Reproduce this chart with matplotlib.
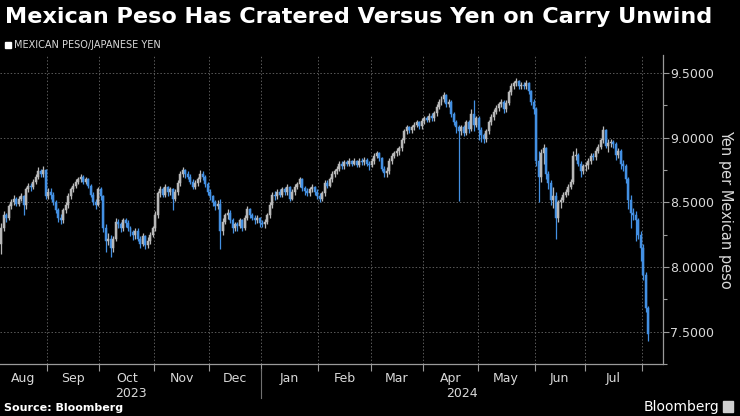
import numpy as np
import pandas as pd
import matplotlib
matplotlib.use("Agg")
import matplotlib.pyplot as plt

# daily MXN/JPY, Aug 7 2023 .. Aug 5 2024 (business days)
dates = pd.bdate_range("2023-08-07", "2024-08-05")
first_open = 8.18

closes = [
    8.30, 8.40, 8.38, 8.47, 8.50,  8.53, 8.49, 8.53, 8.55, 8.48,
    8.60, 8.63, 8.62, 8.66, 8.70,  8.74, 8.72, 8.75, 8.55, 8.58,
    8.56, 8.50, 8.44, 8.38, 8.36,  8.44, 8.48, 8.55, 8.60, 8.63,
    8.66, 8.68, 8.70, 8.66, 8.68,  8.63, 8.56, 8.50, 8.48, 8.60,
    8.55, 8.30, 8.20, 8.22, 8.15,  8.22, 8.35, 8.33, 8.30, 8.36,
    8.34, 8.30, 8.27, 8.25, 8.28,  8.22, 8.18, 8.24, 8.17, 8.20,
    8.25, 8.30, 8.40, 8.57, 8.60,  8.56, 8.62, 8.58, 8.60, 8.53,
    8.58, 8.65, 8.72, 8.75, 8.72,  8.70, 8.66, 8.62, 8.65, 8.68,
    8.72, 8.70, 8.64, 8.58, 8.55,  8.50, 8.47, 8.49, 8.28, 8.35,
    8.40, 8.42, 8.36, 8.30, 8.33,  8.32, 8.36, 8.30, 8.38, 8.45,
    8.40, 8.38, 8.36, 8.38, 8.34,  8.33, 8.35, 8.40, 8.48, 8.56,
    8.55, 8.58, 8.56, 8.60, 8.58,  8.62, 8.53, 8.58, 8.62, 8.64,
    8.68, 8.61, 8.59, 8.57, 8.60,  8.62, 8.58, 8.55, 8.53, 8.57,
    8.65, 8.63, 8.68, 8.72, 8.74,  8.76, 8.80, 8.78, 8.81, 8.80,
    8.82, 8.80, 8.82, 8.79, 8.82,  8.81, 8.83, 8.80, 8.79, 8.82,
    8.86, 8.88, 8.84, 8.76, 8.73,  8.74, 8.82, 8.86, 8.88, 8.90,
    8.92, 8.98, 9.05, 9.08, 9.06,  9.08, 9.10, 9.12, 9.09, 9.13,
    9.15, 9.14, 9.17, 9.15, 9.19,  9.24, 9.28, 9.30, 9.33, 9.26,
    9.28, 9.18, 9.12, 9.08, 9.05,  9.08, 9.04, 9.12, 9.07, 9.18,
    9.10, 9.15, 9.06, 9.02, 8.99,  9.05, 9.12, 9.16, 9.20, 9.23,
    9.26, 9.28, 9.22, 9.27, 9.35,  9.40, 9.42, 9.44, 9.40, 9.41,
    9.40, 9.42, 9.36, 9.28, 9.22,  8.82, 8.70, 8.88, 8.92, 8.72,
    8.65, 8.52, 8.55, 8.38, 8.50,  8.52, 8.56, 8.58, 8.62, 8.66,
    8.86, 8.87, 8.80, 8.74, 8.78,  8.79, 8.82, 8.86, 8.85, 8.90,
    8.93, 8.98, 9.06, 8.94, 8.96,  8.97, 8.95, 8.87, 8.90, 8.80,
    8.78, 8.68, 8.52, 8.42, 8.40,  8.36, 8.25, 8.15, 7.94, 7.68,
    7.48,
]

highs = [
    8.34, 8.43, 8.42, 8.49, 8.53,  8.56, 8.54, 8.55, 8.57, 8.56,
    8.62, 8.65, 8.65, 8.68, 8.72,  8.77, 8.76, 8.78, 8.76, 8.61,
    8.61, 8.58, 8.52, 8.46, 8.41,  8.46, 8.50, 8.57, 8.62, 8.65,
    8.68, 8.70, 8.72, 8.71, 8.70,  8.69, 8.64, 8.58, 8.53, 8.62,
    8.62, 8.56, 8.33, 8.26, 8.25,  8.24, 8.38, 8.37, 8.35, 8.38,
    8.38, 8.36, 8.32, 8.29, 8.30,  8.30, 8.24, 8.26, 8.25, 8.23,
    8.27, 8.32, 8.43, 8.59, 8.63,  8.62, 8.64, 8.63, 8.62, 8.61,
    8.60, 8.67, 8.74, 8.77, 8.76,  8.74, 8.72, 8.68, 8.67, 8.70,
    8.75, 8.74, 8.71, 8.66, 8.60,  8.56, 8.52, 8.52, 8.53, 8.38,
    8.42, 8.45, 8.44, 8.38, 8.35,  8.35, 8.38, 8.37, 8.40, 8.47,
    8.46, 8.42, 8.40, 8.40, 8.39,  8.36, 8.37, 8.42, 8.50, 8.58,
    8.59, 8.60, 8.60, 8.62, 8.62,  8.64, 8.63, 8.60, 8.64, 8.66,
    8.70, 8.69, 8.63, 8.61, 8.62,  8.64, 8.63, 8.60, 8.57, 8.59,
    8.67, 8.67, 8.70, 8.74, 8.76,  8.78, 8.82, 8.82, 8.83, 8.83,
    8.84, 8.83, 8.84, 8.83, 8.84,  8.84, 8.85, 8.84, 8.82, 8.84,
    8.88, 8.90, 8.89, 8.85, 8.78,  8.77, 8.84, 8.88, 8.90, 8.92,
    8.94, 9.00, 9.07, 9.10, 9.09,  9.10, 9.12, 9.14, 9.13, 9.15,
    9.17, 9.17, 9.19, 9.19, 9.21,  9.26, 9.30, 9.32, 9.35, 9.34,
    9.30, 9.29, 9.20, 9.14, 9.10,  9.10, 9.10, 9.14, 9.14, 9.22,
    9.29, 9.17, 9.17, 9.08, 9.04,  9.07, 9.14, 9.18, 9.22, 9.25,
    9.28, 9.30, 9.29, 9.29, 9.37,  9.42, 9.44, 9.46, 9.45, 9.43,
    9.43, 9.45, 9.43, 9.37, 9.30,  9.24, 8.90, 8.91, 8.95, 8.93,
    8.74, 8.67, 8.62, 8.58, 8.52,  8.54, 8.58, 8.60, 8.64, 8.68,
    8.90, 8.92, 8.88, 8.82, 8.80,  8.81, 8.84, 8.88, 8.88, 8.92,
    8.95, 9.00, 9.09, 9.07, 8.99,  8.99, 8.98, 8.97, 8.92, 8.91,
    8.83, 8.80, 8.70, 8.56, 8.46,  8.43, 8.38, 8.28, 8.18, 7.96,
    7.70,
]

lows = [
    8.10, 8.28, 8.35, 8.36, 8.45,  8.48, 8.47, 8.47, 8.51, 8.40,
    8.45, 8.58, 8.59, 8.60, 8.64,  8.68, 8.70, 8.70, 8.53, 8.53,
    8.53, 8.48, 8.42, 8.35, 8.33,  8.34, 8.42, 8.46, 8.53, 8.58,
    8.61, 8.64, 8.66, 8.64, 8.64,  8.61, 8.54, 8.48, 8.45, 8.47,
    8.52, 8.27, 8.12, 8.17, 8.08,  8.12, 8.20, 8.30, 8.27, 8.28,
    8.31, 8.28, 8.24, 8.21, 8.22,  8.20, 8.15, 8.16, 8.14, 8.15,
    8.18, 8.23, 8.28, 8.38, 8.54,  8.54, 8.54, 8.55, 8.56, 8.44,
    8.51, 8.56, 8.63, 8.70, 8.69,  8.68, 8.64, 8.60, 8.60, 8.63,
    8.66, 8.67, 8.62, 8.56, 8.52,  8.47, 8.44, 8.45, 8.14, 8.25,
    8.33, 8.37, 8.34, 8.26, 8.28,  8.28, 8.30, 8.28, 8.29, 8.36,
    8.38, 8.36, 8.33, 8.34, 8.31,  8.31, 8.30, 8.33, 8.38, 8.46,
    8.52, 8.53, 8.54, 8.54, 8.56,  8.56, 8.51, 8.52, 8.56, 8.60,
    8.62, 8.59, 8.56, 8.55, 8.55,  8.58, 8.56, 8.53, 8.50, 8.51,
    8.55, 8.61, 8.62, 8.66, 8.70,  8.72, 8.74, 8.76, 8.76, 8.78,
    8.78, 8.78, 8.79, 8.77, 8.77,  8.79, 8.79, 8.78, 8.75, 8.77,
    8.80, 8.84, 8.82, 8.74, 8.70,  8.70, 8.72, 8.80, 8.84, 8.86,
    8.87, 8.90, 8.96, 9.03, 9.04,  9.04, 9.06, 9.08, 9.07, 9.07,
    9.11, 9.12, 9.12, 9.13, 9.13,  9.17, 9.22, 9.25, 9.28, 9.24,
    9.24, 9.16, 9.10, 9.04, 8.51,  9.02, 9.01, 9.02, 9.04, 9.05,
    9.05, 9.08, 8.98, 8.97, 8.96,  8.97, 9.03, 9.10, 9.14, 9.18,
    9.21, 9.24, 9.19, 9.20, 9.25,  9.33, 9.38, 9.40, 9.38, 9.38,
    9.38, 9.38, 9.34, 9.25, 9.18,  8.78, 8.50, 8.66, 8.80, 8.68,
    8.60, 8.48, 8.46, 8.22, 8.35,  8.46, 8.50, 8.54, 8.56, 8.60,
    8.64, 8.83, 8.78, 8.70, 8.72,  8.74, 8.76, 8.80, 8.83, 8.83,
    8.88, 8.91, 8.96, 8.92, 8.89,  8.93, 8.92, 8.83, 8.84, 8.76,
    8.74, 8.65, 8.45, 8.30, 8.36,  8.20, 8.22, 8.05, 7.90, 7.65,
    7.43,
]

closes = np.array(closes)
opens = np.concatenate([[first_open], closes[:-1]])
highs = np.maximum(np.array(highs), np.maximum(opens, closes))
lows = np.minimum(np.array(lows), np.minimum(opens, closes))

month_labels = ["Aug", "Sep", "Oct", "Nov", "Dec", "Jan", "Feb", "Mar",
                "Apr", "May", "Jun", "Jul"]
y_ticks = [7.5, 8.0, 8.5, 9.0, 9.5]

BG = "black"
UP = "#b8b8b8"
DOWN = "#4390e3"
TXT = "#d9d9d9"

# trading-day index axis
x = np.arange(len(dates))
months = dates.to_period("M")
first_idx = [int(np.argmax(months == m)) for m in months.unique()]
bounds = [i - 0.5 for i in first_idx[1:]]          # Sep 2023 .. Aug 2024 starts
edges = [-0.5] + bounds
label_pos = [(edges[i] + edges[i + 1]) / 2 for i in range(len(month_labels))]
jan_edge = bounds[4]

fig = plt.figure(figsize=(7.4, 4.16), dpi=100, facecolor=BG)
ax = fig.add_axes([0.0, 1 - 364 / 416, 663 / 740, (364 - 55) / 416])
ax.set_facecolor(BG)

up = closes >= opens
cols = np.where(up, UP, DOWN)
body = closes - opens
body = np.where(np.abs(body) < 0.006, 0.006, body)
ax.vlines(x, lows, highs, colors=cols, linewidth=0.9, zorder=2)
ax.bar(x, body, bottom=opens, width=0.8, color=cols, edgecolor=cols,
       linewidth=0.35, zorder=3)

ax.set_xlim(-0.45, len(dates) - 1 + 15 / 2.488)
ax.set_ylim(7.256, 9.64)

ax.yaxis.tick_right()
ax.set_yticks(y_ticks)
ax.set_yticklabels([f"{v:.4f}" for v in y_ticks])
ax.set_yticks(np.arange(7.25, 9.6, 0.25), minor=True)
ax.tick_params(axis="y", which="major", colors="#9a9a9a", labelcolor=TXT,
               labelsize=9, length=4, width=0.8, pad=1)
ax.tick_params(axis="y", which="minor", colors="#9a9a9a", length=3, width=0.8)

ax.set_xticks(bounds)
ax.set_xticklabels([])
ax.set_xticks(label_pos, minor=True)
ax.set_xticklabels(month_labels, minor=True)
ax.tick_params(axis="x", which="major", colors="#9a9a9a", length=5, width=0.8)
ax.tick_params(axis="x", which="minor", length=0, labelcolor=TXT, labelsize=9, pad=6)

ax.grid(True, which="major", color="#5a5a5a", linestyle=(0, (1.5, 2)), linewidth=0.7)
ax.set_axisbelow(True)
for s in ["top", "left"]:
    ax.spines[s].set_visible(False)
for s in ["right", "bottom"]:
    ax.spines[s].set_color("#9a9a9a")
    ax.spines[s].set_linewidth(0.9)

ax.set_ylabel("Yen per Mexican peso", color=TXT, fontsize=10.5, rotation=-90, labelpad=14)
ax.yaxis.set_label_position("right")

# year labels and separator
x0, x1 = ax.get_xlim()
ax.text((-0.45 + jan_edge) / 2, -0.094, "2023", transform=ax.get_xaxis_transform(),
        ha="center", va="center", color=TXT, fontsize=9)
ax.text((jan_edge + x1) / 2, -0.094, "2024", transform=ax.get_xaxis_transform(),
        ha="center", va="center", color=TXT, fontsize=9)
ax.plot([jan_edge, jan_edge], [-0.015, -0.11], transform=ax.get_xaxis_transform(),
        color="#707070", linewidth=0.8, clip_on=False)

fig.text(5 / 740, 1 - 17 / 416, "Mexican Peso Has Cratered Versus Yen on Carry Unwind",
         color="white", fontsize=16.1, fontweight="bold", va="center", ha="left")
fig.patches.append(plt.Rectangle((5 / 740, 1 - 48 / 416), 6 / 740, 6 / 416,
                                 transform=fig.transFigure, color="white"))
fig.text(14 / 740, 1 - 44.5 / 416, "MEXICAN PESO/JAPANESE YEN", color=TXT, fontsize=7,
         va="center", ha="left")
fig.text(4 / 740, 1 - 408 / 416, "Source: Bloomberg", color="white", fontsize=8,
         fontweight="bold", va="center", ha="left")
fig.text(719 / 740, 1 - 407 / 416, "Bloomberg", color="white", fontsize=10,
         va="center", ha="right")
fig.patches.append(plt.Rectangle((723 / 740, 1 - 412 / 416), 10 / 740, 11 / 416,
                                 transform=fig.transFigure, color="#cfcfcf"))

fig.savefig("out.png", dpi=100, facecolor=BG)
